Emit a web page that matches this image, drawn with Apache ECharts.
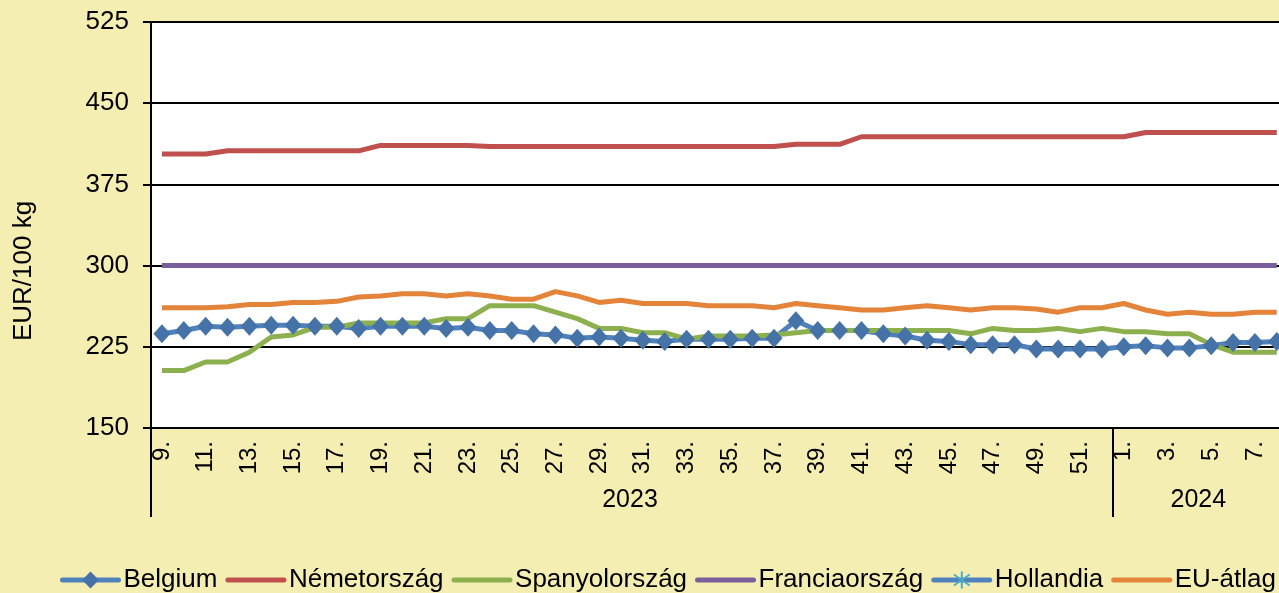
<!DOCTYPE html>
<html>
<head>
<meta charset="utf-8">
<script src="https://cdn.jsdelivr.net/npm/echarts@6/dist/echarts.min.js"></script>
<style>
html, body {
    margin: 0;
    padding: 0;
    background: #f5eeb3;
}

#chart {
    width: 1279px;
    height: 593px;
}
</style>
</head>
<body>
<div id="chart"></div>
<script>
// weekly labels: 2023 week 9 .. week 52, then 2024 week 1 .. week 8
const weeks = [
    '9.', '10.', '11.', '12.', '13.', '14.', '15.', '16.', '17.', '18.', '19.',
    '20.', '21.', '22.', '23.', '24.', '25.', '26.', '27.', '28.', '29.', '30.',
    '31.', '32.', '33.', '34.', '35.', '36.', '37.', '38.', '39.', '40.', '41.',
    '42.', '43.', '44.', '45.', '46.', '47.', '48.', '49.', '50.', '51.', '52.',
    '1.', '2.', '3.', '4.', '5.', '6.', '7.', '8.'
]
const years = ['2023', '2024']
const yearStart = [0, 44]
const yearEnd = [43, 51]

const belgium = [
    237, 240, 244, 243, 244, 245, 245, 244, 244, 242, 244, 244, 244, 242, 243, 240,
    240, 237, 236, 233, 234, 233, 231, 230, 232, 232, 232, 233, 233, 249, 240, 240,
    240, 237, 235, 231, 230, 227, 227, 227, 223, 223, 223, 223, 225, 226, 224, 224,
    226, 229, 229, 230
]
const germany = [
    403, 403, 403, 406, 406, 406, 406, 406, 406, 406, 411, 411, 411, 411, 411, 410,
    410, 410, 410, 410, 410, 410, 410, 410, 410, 410, 410, 410, 410, 412, 412, 412,
    419, 419, 419, 419, 419, 419, 419, 419, 419, 419, 419, 419, 419, 423, 423, 423,
    423, 423, 423, 423
]
const spain = [
    203, 203, 211, 211, 220, 234, 236, 243, 243, 247, 247, 247, 247, 251, 251, 263,
    263, 263, 257, 251, 242, 242, 238, 238, 232, 235, 235, 235, 236, 238, 240, 240,
    240, 240, 240, 240, 240, 237, 242, 240, 240, 242, 239, 242, 239, 239, 237, 237,
    227, 220, 220, 220
]
const france = [
    300, 300, 300, 300, 300, 300, 300, 300, 300, 300, 300, 300, 300, 300, 300, 300,
    300, 300, 300, 300, 300, 300, 300, 300, 300, 300, 300, 300, 300, 300, 300, 300,
    300, 300, 300, 300, 300, 300, 300, 300, 300, 300, 300, 300, 300, 300, 300, 300,
    300, 300, 300, 300
]
const netherlands = []
const euAverage = [
    261, 261, 261, 262, 264, 264, 266, 266, 267, 271, 272, 274, 274, 272, 274, 272,
    269, 269, 276, 272, 266, 268, 265, 265, 265, 263, 263, 263, 261, 265, 263, 261,
    259, 259, 261, 263, 261, 259, 261, 261, 260, 257, 261, 261, 265, 259, 255, 257,
    255, 255, 257, 257
]

const font = '"Liberation Sans", Arial, sans-serif'
const asterisk = 'path://M9,0L11,0L11,20L9,20Z M1.3,4.2L2.3,2.5L18.7,15.8L17.7,17.5Z M1.3,15.8L2.3,17.5L18.7,4.2L17.7,2.5Z'

const chart = echarts.init(document.getElementById('chart'))

const line = function (name, data, color, extra) {
    return Object.assign({
        name: name,
        type: 'line',
        data: data,
        symbol: 'none',
        xAxisIndex: 0,
        lineStyle: { color: color, width: 5 },
        itemStyle: { color: color },
        animation: false
    }, extra || {})
}

// line-only series get no marker in the legend
const plain = function (name) {
    return { name: name, itemStyle: { opacity: 0 } }
}

const option = {
    backgroundColor: '#f5eeb3',
    textStyle: { fontFamily: font },
    grid: {
        left: 151,
        top: 22,
        height: 406,
        width: weeks.length * 21.86,
        outerBoundsMode: 'none',
        backgroundColor: '#ffffff',
        show: true,
        borderWidth: 0
    },
    legend: {
        left: 55,
        top: 562,
        width: 1600,
        itemWidth: 56,
        itemHeight: 21,
        itemGap: 8,
        lineStyle: { width: 5, cap: 'round' },
        textStyle: { fontSize: 26, color: '#000', fontFamily: font },
        data: [
            'Belgium',
            plain('Németország'),
            plain('Spanyolország'),
            plain('Franciaország'),
            'Hollandia',
            plain('EU-átlag')
        ]
    },
    xAxis: [
        {
            type: 'category',
            data: weeks,
            boundaryGap: true,
            axisLine: { lineStyle: { color: '#000', width: 2 } },
            axisTick: { show: false },
            axisLabel: {
                interval: 1,
                rotate: 90,
                margin: 13,
                fontSize: 24,
                color: '#000',
                fontFamily: font
            }
        },
        {
            type: 'category',
            data: weeks,
            position: 'bottom',
            boundaryGap: true,
            axisLine: { show: false },
            axisTick: {
                show: true,
                length: 89,
                interval: function (index) {
                    return yearStart.indexOf(index) >= 0
                },
                lineStyle: { color: '#000', width: 2 }
            },
            axisLabel: {
                margin: 60,
                fontSize: 25,
                color: '#000',
                fontFamily: font,
                padding: [0, 0, 0, 18],
                interval: function (index) {
                    return years.some(function (y, k) {
                        return index === Math.floor((yearStart[k] + yearEnd[k]) / 2)
                    })
                },
                formatter: function (value, index) {
                    for (let k = 0; k < years.length; k++) {
                        if (index === Math.floor((yearStart[k] + yearEnd[k]) / 2)) {
                            return years[k]
                        }
                    }
                    return ''
                }
            }
        }
    ],
    yAxis: {
        type: 'value',
        min: 150,
        max: 525,
        interval: 75,
        name: 'EUR/100 kg',
        nameLocation: 'middle',
        nameGap: 114,
        nameTextStyle: { fontSize: 26, color: '#000', fontFamily: font, padding: [0, 92, 0, 0] },
        axisLine: { show: true, lineStyle: { color: '#000', width: 2 } },
        axisTick: { show: true, length: 8, lineStyle: { color: '#000', width: 2 } },
        axisLabel: { fontSize: 26, color: '#000', margin: 22, fontFamily: font },
        splitLine: { lineStyle: { color: '#000', width: 2 } }
    },
    series: [
        line('Belgium', belgium, '#4f81bd', {
            symbol: 'diamond',
            symbolSize: [17, 19],
            showAllSymbol: true,
            itemStyle: { color: '#4572a7', borderWidth: 0 }
        }),
        line('Németország', germany, '#c0504d'),
        line('Spanyolország', spain, '#8db04f'),
        line('Franciaország', france, '#7b5e9c'),
        line('Hollandia', netherlands, '#4f81bd', {
            symbol: asterisk,
            symbolSize: 18,
            itemStyle: { color: '#4bacc6' }
        }),
        line('EU-átlag', euAverage, '#e3843a')
    ]
}

chart.setOption(option)
</script>
</body>
</html>
